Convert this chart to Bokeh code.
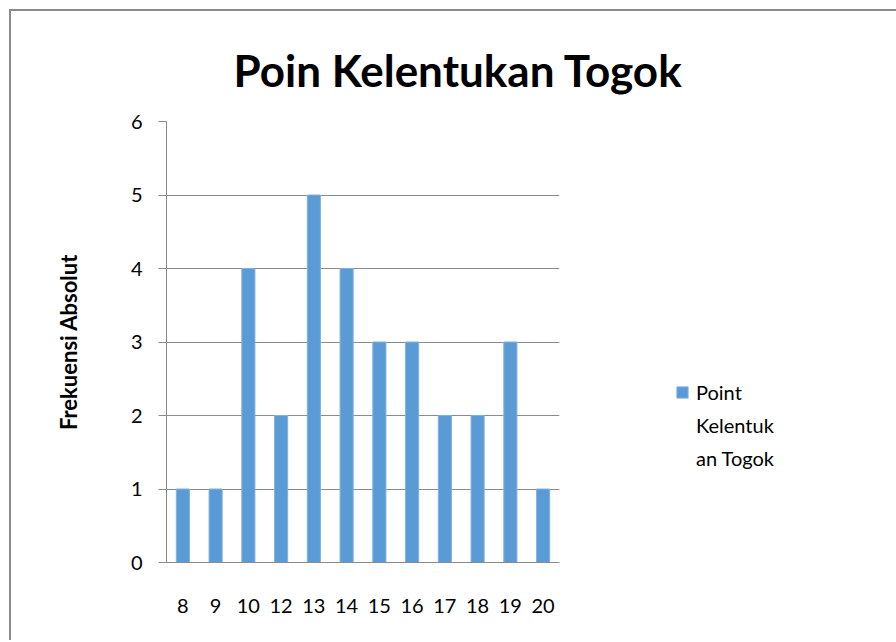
from bokeh.plotting import figure
from bokeh.models import FactorRange, Range1d, Legend, LegendItem, Title
from bokeh.embed import file_html
from bokeh.resources import INLINE

categories = ["8", "9", "10", "12", "13", "14", "15", "16", "17", "18", "19", "20"]
values = [1, 1, 4, 2, 5, 4, 3, 3, 2, 2, 3, 1]
y_ticks = [0, 1, 2, 3, 4, 5, 6]
legend_lines = ["Point", "Kelentuk", "an Togok"]

FONT = "Lato"
GRAY = "#8a8a8a"

p = figure(frame_width=393, frame_height=441, output_backend="svg", toolbar_location=None,
           x_range=FactorRange(*categories, range_padding=0),
           y_range=Range1d(0, 6),
           min_border_left=155, min_border_top=110, min_border_bottom=78,
           min_border_right=0)
p.styles = {"border-left": "2.5px solid #8a8a8a", "border-top": "2.5px solid #8a8a8a",
            "margin-left": "9px", "margin-top": "9px"}
p.outline_line_color = None
p.background_fill_color = "white"
p.border_fill_color = "white"

r = p.vbar(x=categories, top=values, width=0.4, fill_color="#5B9BD5",
           line_color="#7fb1e0", line_width=1)

p.xgrid.grid_line_color = None
p.ygrid.grid_line_color = GRAY
p.ygrid.grid_line_width = 1
p.yaxis.ticker = y_ticks
p.yaxis.axis_line_color = GRAY
p.yaxis.major_tick_line_color = GRAY
p.yaxis.major_tick_out = 8
p.yaxis.major_tick_in = 0
p.yaxis.minor_tick_line_color = None
p.yaxis.major_label_standoff = 16
p.yaxis.major_label_text_font = FONT
p.yaxis.major_label_text_font_size = "20px"
p.yaxis.major_label_text_color = "black"
p.yaxis.axis_label = "Frekuensi Absolut"
p.yaxis.axis_label_text_font = FONT
p.yaxis.axis_label_text_font_style = "bold"
p.yaxis.axis_label_text_font_size = "22px"
p.yaxis.axis_label_text_color = "black"
p.yaxis.axis_label_standoff = 46

p.xaxis.axis_line_color = GRAY
p.xaxis.major_tick_line_color = None
p.xaxis.minor_tick_line_color = None
p.xaxis.major_label_standoff = 30
p.xaxis.major_label_text_font = FONT
p.xaxis.major_label_text_font_size = "20px"
p.xaxis.major_label_text_color = "black"

title = Title(text="Poin Kelentukan Togok", align="left", offset=67,
              text_font=FONT, text_font_style="bold", text_font_size="44px",
              text_color="black", standoff=47, vertical_align="top")
p.add_layout(title, "above")

items = [LegendItem(label=legend_lines[0], renderers=[r])]
items += [LegendItem(label=t, renderers=[]) for t in legend_lines[1:]]
legend = Legend(items=items,
                location=(116, 92), padding=0, margin=0, border_line_color=None,
                background_fill_color=None, glyph_width=14, glyph_height=14,
                label_height=24, spacing=9,
                label_standoff=7, label_text_font=FONT, label_text_font_size="20px",
                label_text_color="black")
p.add_layout(legend, "right")

open("out.html", "w").write(file_html(p, INLINE))
